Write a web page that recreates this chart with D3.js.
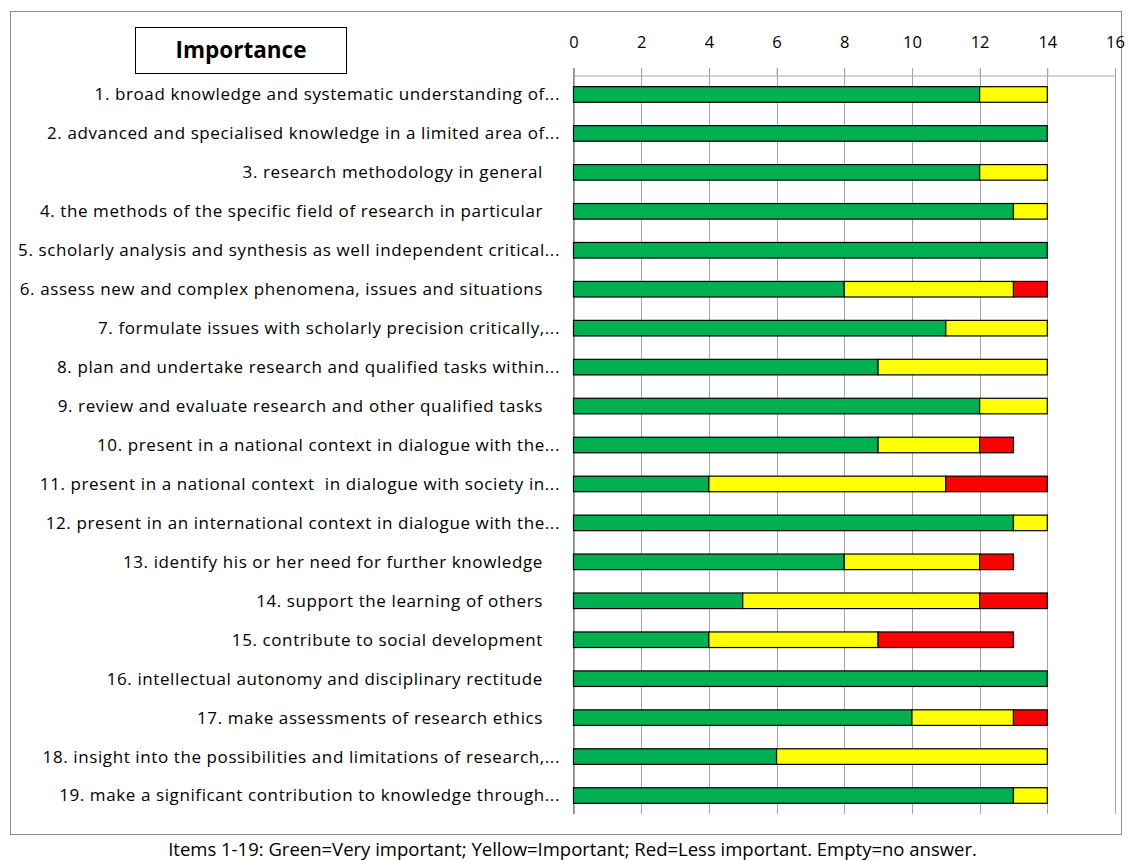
<!DOCTYPE html>
<html>
<head>
<meta charset="utf-8">
<script src="https://cdn.jsdelivr.net/npm/d3@7"></script>
<style>
  body { margin: 0; background: #fff; }
  text { font-family: "Open Sans", Lato, sans-serif; white-space: pre; }
</style>
</head>
<body>
<div id="chart"></div>
<script>
// categories (as shown on the chart, truncated like the original)
const items = [
  "1. broad knowledge and systematic understanding of...",
  "2. advanced and specialised knowledge in a limited area of...",
  "3. research methodology in general ",
  "4. the methods of the specific field of research in particular ",
  "5. scholarly analysis and synthesis as well independent critical...",
  "6. assess new and complex phenomena, issues and situations ",
  "7. formulate issues with scholarly precision critically,...",
  "8. plan and undertake research and qualified tasks within...",
  "9. review and evaluate research and other qualified tasks ",
  "10. present in a national context in dialogue with the...",
  "11. present in a national context  in dialogue with society in...",
  "12. present in an international context in dialogue with the...",
  "13. identify his or her need for further knowledge ",
  "14. support the learning of others ",
  "15. contribute to social development ",
  "16. intellectual autonomy and disciplinary rectitude ",
  "17. make assessments of research ethics ",
  "18. insight into the possibilities and limitations of research,...",
  "19. make a significant contribution to knowledge through..."
];

// series values
const veryImportant = [12, 14, 12, 13, 14, 8, 11, 9, 12, 9, 4, 13, 8, 5, 4, 14, 10, 6, 13];
const important     = [2, 0, 2, 1, 0, 5, 3, 5, 2, 3, 7, 1, 4, 7, 5, 0, 3, 8, 1];
const lessImportant = [0, 0, 0, 0, 0, 1, 0, 0, 0, 1, 3, 0, 1, 2, 4, 0, 1, 0, 0];

const xTicks = [0, 2, 4, 6, 8, 10, 12, 14, 16];
const seriesKeys = ["very", "important", "less"];
const seriesColors = ["#00B050", "#FFFF00", "#FF0000"];

const W = 1132, H = 860;
const svg = d3.select("#chart").append("svg")
  .attr("width", W)
  .attr("height", H);

// outer chart border
svg.append("rect")
  .attr("x", 10.5).attr("y", 11.5)
  .attr("width", 1111).attr("height", 823)
  .attr("fill", "#fff")
  .attr("stroke", "#8c8c8c")
  .attr("stroke-width", 1);

const x = d3.scaleLinear().domain([0, 16]).range([573.5, 1115]);
const y = d3.scaleBand().domain(items).range([75, 815]).paddingInner(0.6).paddingOuter(0.3);

// vertical gridlines
svg.append("g")
  .selectAll("line")
  .data(xTicks)
  .join("line")
  .attr("x1", d => Math.round(x(d)) + 0.5).attr("x2", d => Math.round(x(d)) + 0.5)
  .attr("y1", 68).attr("y2", 814)
  .attr("stroke", "#a6a6a6")
  .attr("stroke-width", 1);

// top axis
const xAxis = svg.append("g")
  .attr("transform", "translate(0,75.5)")
  .call(d3.axisTop(x).tickValues(xTicks).tickSize(7).tickPadding(21));
xAxis.select(".domain").attr("stroke", "#a6a6a6");
xAxis.selectAll(".tick line").attr("stroke", "#a6a6a6");
xAxis.selectAll("text")
  .attr("fill", "#000")
  .style("font-size", "16.5px")
  .style("font-family", "'Open Sans', Lato, sans-serif");

// left axis line
svg.append("line")
  .attr("x1", 573.5).attr("x2", 573.5)
  .attr("y1", 68).attr("y2", 814)
  .attr("stroke", "#8c8c8c");

// stacked data
const rows = items.map((name, i) => ({
  name, very: veryImportant[i], important: important[i], less: lessImportant[i]
}));
const stack = d3.stack().keys(seriesKeys)(rows);

svg.append("g")
  .selectAll("g")
  .data(stack)
  .join("g")
  .attr("fill", (d, i) => seriesColors[i])
  .selectAll("rect")
  .data(d => d.filter(s => s[1] > s[0]))
  .join("rect")
  .attr("x", d => x(d[0]))
  .attr("y", d => y(d.data.name))
  .attr("width", d => x(d[1]) - x(d[0]))
  .attr("height", y.bandwidth())
  .attr("stroke", "#000")
  .attr("stroke-width", 1.2);

// category labels (labels with a trailing blank sit a bit further left)
svg.append("g")
  .selectAll("text")
  .data(items)
  .join("text")
  .attr("x", d => d.endsWith(" ") ? 548 : 560)
  .attr("y", d => y(d) + y.bandwidth() / 2)
  .attr("dy", "0.35em")
  .attr("text-anchor", "end")
  .style("font-size", "17px")
  .style("letter-spacing", "0.6px")
  .attr("fill", "#000")
  .text(d => d);

// title box
svg.append("rect")
  .attr("x", 135.5).attr("y", 27.5)
  .attr("width", 211).attr("height", 46)
  .attr("fill", "#fff")
  .attr("stroke", "#000");
svg.append("text")
  .attr("x", 241).attr("y", 50)
  .attr("dy", "0.35em")
  .attr("text-anchor", "middle")
  .style("font-size", "22.5px")
  .style("font-weight", "bold")
  .text("Importance");

// caption
svg.append("text")
  .attr("x", 572.5).attr("y", 850)
  .attr("dy", "0.35em")
  .attr("text-anchor", "middle")
  .style("font-size", "18.5px")
  .text("Items 1-19: Green=Very important; Yellow=Important; Red=Less important. Empty=no answer.");
</script>
</body>
</html>
